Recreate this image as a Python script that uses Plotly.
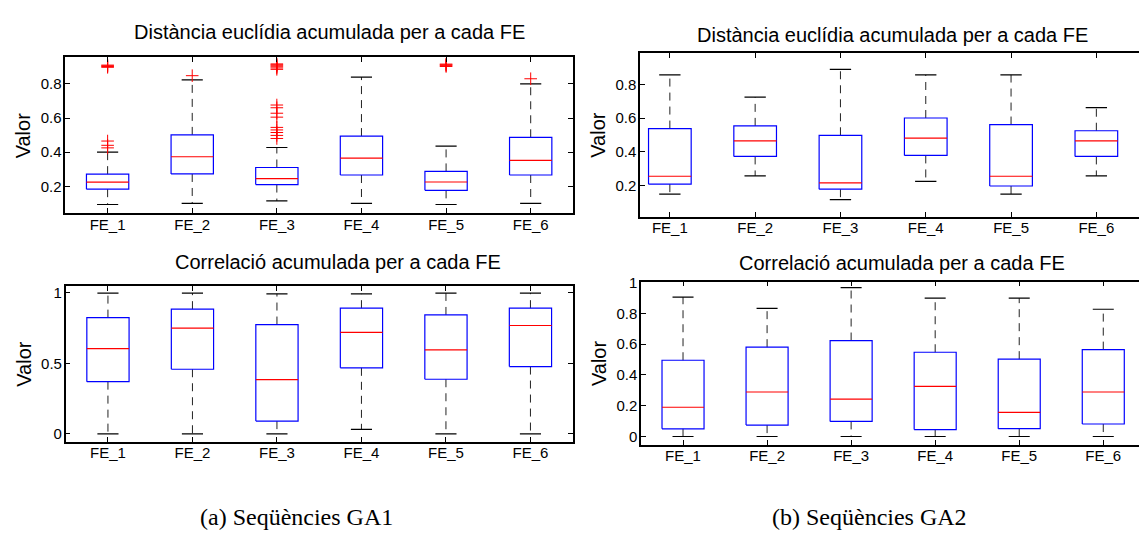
import plotly.graph_objects as go

W, H = 1139, 534

categories = ["FE_1", "FE_2", "FE_3", "FE_4", "FE_5", "FE_6"]

# GA1 - accumulated Euclidean distance
ga1_dist_lo = [0.093, 0.100, 0.114, 0.100, 0.093, 0.100]
ga1_dist_q1 = [0.183, 0.272, 0.210, 0.266, 0.176, 0.266]
ga1_dist_med = [0.224, 0.373, 0.245, 0.365, 0.225, 0.352]
ga1_dist_q3 = [0.271, 0.501, 0.310, 0.494, 0.287, 0.487]
ga1_dist_hi = [0.400, 0.823, 0.427, 0.840, 0.435, 0.800]
ga1_dist_out = [
    [0.425, 0.440, 0.465, 0.897, 0.902, 0.906, 0.910],
    [0.848],
    [0.480, 0.498, 0.515, 0.530, 0.545, 0.605, 0.628, 0.660, 0.676,
     0.885, 0.893, 0.900, 0.906, 0.912, 0.917],
    [],
    [0.902, 0.907, 0.912, 0.916],
    [0.830],
]

# GA1 - accumulated correlation
ga1_corr_lo = [0.0, 0.0, 0.0, 0.032, 0.0, 0.0]
ga1_corr_q1 = [0.370, 0.458, 0.090, 0.468, 0.387, 0.477]
ga1_corr_med = [0.604, 0.750, 0.384, 0.720, 0.595, 0.768]
ga1_corr_q3 = [0.824, 0.884, 0.775, 0.891, 0.843, 0.891]
ga1_corr_hi = [0.998, 0.998, 0.993, 0.993, 0.998, 0.998]
ga1_corr_out = [[], [], [], [], [], []]

# GA2 - accumulated Euclidean distance
ga2_dist_lo = [0.148, 0.256, 0.115, 0.223, 0.148, 0.256]
ga2_dist_q1 = [0.207, 0.372, 0.177, 0.378, 0.196, 0.372]
ga2_dist_med = [0.254, 0.465, 0.215, 0.481, 0.254, 0.465]
ga2_dist_q3 = [0.538, 0.554, 0.498, 0.601, 0.562, 0.525]
ga2_dist_hi = [0.858, 0.725, 0.891, 0.858, 0.858, 0.663]
ga2_dist_out = [[], [], [], [], [], []]

# GA2 - accumulated correlation
ga2_corr_lo = [0.0, 0.0, 0.0, 0.0, 0.0, 0.0]
ga2_corr_q1 = [0.050, 0.074, 0.098, 0.045, 0.051, 0.081]
ga2_corr_med = [0.190, 0.289, 0.243, 0.326, 0.157, 0.289]
ga2_corr_q3 = [0.495, 0.580, 0.623, 0.547, 0.502, 0.564]
ga2_corr_hi = [0.905, 0.832, 0.966, 0.898, 0.898, 0.826]
ga2_corr_out = [[], [], [], [], [], []]

title_dist = "Distància euclídia acumulada per a cada FE"
title_corr = "Correlació acumulada per a cada FE"
captions = ["(a) Seqüències GA1", "(b) Seqüències GA2"]

BOX_W = 0.5
CAP_W = 0.25
BLUE, RED, INK = "#0000ff", "#ff0000", "#000000"
FONT = "Liberation Sans"


def px_x(p):
    return p / W


def px_y(p):
    return 1 - p / H


# panel frames in pixels: left, right, top, bottom, x range, y range, y ticks
panels = [
    dict(stats=(ga1_dist_lo, ga1_dist_q1, ga1_dist_med, ga1_dist_q3, ga1_dist_hi, ga1_dist_out),
         box=(65.3, 573.0, 50.0, 208.0), xr=[0.5, 6.5], yr=[0.044, 0.956],
         yt=[0.2, 0.4, 0.6, 0.8], ytt=["0.2", "0.4", "0.6", "0.8"],
         title=title_dist, tx=329, ty=24, mirror_y="ticks"),
    dict(stats=(ga1_corr_lo, ga1_corr_q1, ga1_corr_med, ga1_corr_q3, ga1_corr_hi, ga1_corr_out),
         box=(65.7, 572.7, 282.7, 440.3), xr=[0.5, 6.5], yr=[-0.056, 1.045],
         yt=[0, 0.5, 1], ytt=["0", "0.5", "1"],
         title=title_corr, tx=338, ty=258, mirror_y="ticks"),
    dict(stats=(ga2_dist_lo, ga2_dist_q1, ga2_dist_med, ga2_dist_q3, ga2_dist_hi, ga2_dist_out),
         box=(640.0, 1139.0, 45.7, 211.7), xr=[0.65, 6.5], yr=[0.014, 0.988],
         yt=[0.2, 0.4, 0.6, 0.8], ytt=["0.2", "0.4", "0.6", "0.8"],
         title=title_dist, tx=892, ty=27, mirror_y=False),
    dict(stats=(ga2_corr_lo, ga2_corr_q1, ga2_corr_med, ga2_corr_q3, ga2_corr_hi, ga2_corr_out),
         box=(641.0, 1139.0, 277.7, 443.3), xr=[0.5, 6.425], yr=[-0.053, 1.006],
         yt=[0, 0.2, 0.4, 0.6, 0.8, 1], ytt=["0", "0.2", "0.4", "0.6", "0.8", "1"],
         title=title_corr, tx=902, ty=258.5, mirror_y=False),
]

fig = go.Figure()
annotations = []
layout_axes = {}

for i, p in enumerate(panels, start=1):
    lo, q1, med, q3, hi, out = p["stats"]
    xa = "x" if i == 1 else f"x{i}"
    ya = "y" if i == 1 else f"y{i}"
    pos = list(range(1, len(categories) + 1))

    bx, by, mx, my, wx, wy, cx, cy, ox, oy = ([] for _ in range(10))
    for k, c in enumerate(pos):
        l, r = c - BOX_W / 2, c + BOX_W / 2
        bx += [l, r, r, l, l, None]
        by += [q1[k], q1[k], q3[k], q3[k], q1[k], None]
        mx += [l, r, None]
        my += [med[k], med[k], None]
        wx += [c, c, None, c, c, None]
        wy += [q3[k], hi[k], None, q1[k], lo[k], None]
        cx += [c - CAP_W / 2, c + CAP_W / 2, None, c - CAP_W / 2, c + CAP_W / 2, None]
        cy += [hi[k], hi[k], None, lo[k], lo[k], None]
        ox += [c] * len(out[k])
        oy += out[k]

    common = dict(xaxis=xa, yaxis=ya, showlegend=False, hoverinfo="skip")
    fig.add_trace(go.Scatter(x=wx, y=wy, mode="lines",
                             line=dict(color="#222222", width=1, dash="8px,6px"), **common))
    fig.add_trace(go.Scatter(x=cx, y=cy, mode="lines",
                             line=dict(color=INK, width=1.2), **common))
    fig.add_trace(go.Scatter(x=bx, y=by, mode="lines",
                             line=dict(color=BLUE, width=1.2), **common))
    fig.add_trace(go.Scatter(x=mx, y=my, mode="lines",
                             line=dict(color=RED, width=1.2), **common))
    if ox:
        fig.add_trace(go.Scatter(x=ox, y=oy, mode="markers",
                                 marker=dict(symbol="cross-thin", size=9,
                                             line=dict(color=RED, width=1)),
                                 **common))

    left, right, top, bottom = p["box"]
    axis_style = dict(showline=True, linecolor=INK, linewidth=1.5, showgrid=False,
                      zeroline=False, ticks="inside", ticklen=5, tickwidth=1,
                      tickcolor=INK, tickfont=dict(family=FONT, size=15, color=INK))
    key_x = "xaxis" if i == 1 else f"xaxis{i}"
    key_y = "yaxis" if i == 1 else f"yaxis{i}"
    layout_axes[key_x] = dict(axis_style, domain=[px_x(left), px_x(right)], range=p["xr"],
                              anchor=ya, tickmode="array", tickvals=pos,
                              ticktext=categories, mirror="ticks", ticklabelstandoff=-3)
    layout_axes[key_y] = dict(axis_style, domain=[px_y(bottom), px_y(top)], range=p["yr"],
                              anchor=xa, tickmode="array", tickvals=p["yt"],
                              ticktext=p["ytt"], mirror=p["mirror_y"], ticklabelstandoff=-1)

    annotations.append(dict(text=p["title"], x=px_x(p["tx"]), y=px_y(p["ty"]),
                            xref="paper", yref="paper", xanchor="center", yanchor="middle",
                            showarrow=False, font=dict(family=FONT, size=20, color=INK)))
    annotations.append(dict(text="Valor", x=px_x(left - 42), y=px_y((top + bottom) / 2),
                            xref="paper", yref="paper", xanchor="center", yanchor="middle",
                            textangle=-90, showarrow=False,
                            font=dict(family=FONT, size=20, color=INK)))

for cap, cxp in zip(captions, [296, 869]):
    annotations.append(dict(text=cap, x=px_x(cxp), y=px_y(517), xref="paper", yref="paper",
                            xanchor="center", yanchor="middle", showarrow=False,
                            font=dict(family="Liberation Serif", size=24, color=INK)))

fig.update_layout(width=W, height=H, margin=dict(l=0, r=0, t=0, b=0),
                  paper_bgcolor="white", plot_bgcolor="white",
                  annotations=annotations, **layout_axes)

fig.write_html("out.html")
